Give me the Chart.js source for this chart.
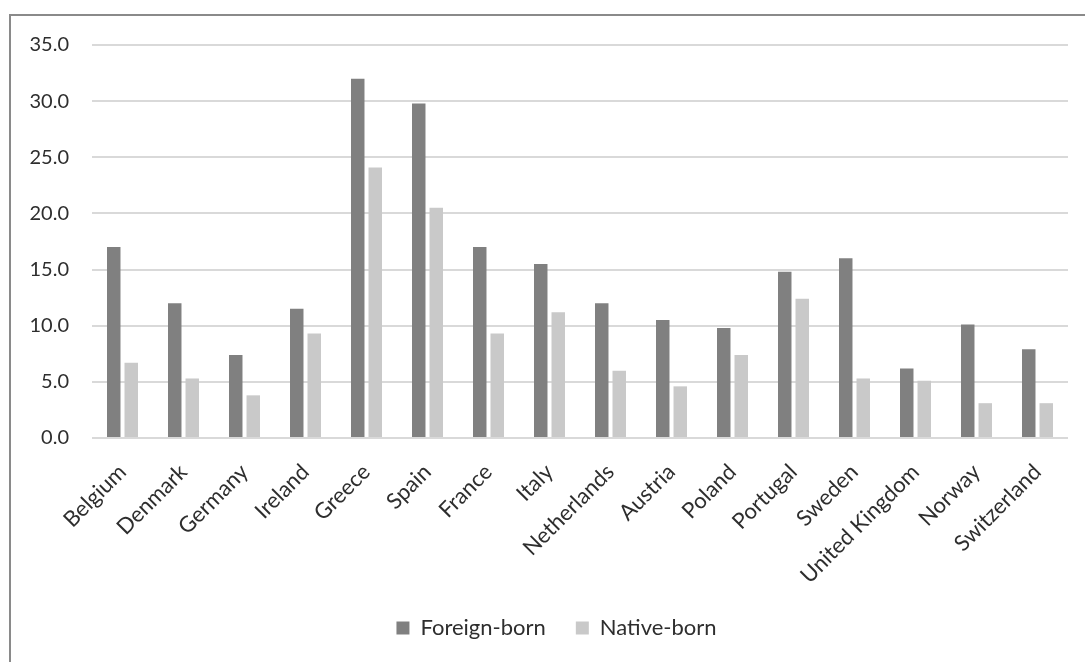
<!DOCTYPE html>
<html>
<head>
<meta charset="utf-8">
<title>Foreign-born and native-born</title>
<script src="https://cdn.jsdelivr.net/npm/chart.js@4.4.1/dist/chart.umd.min.js"></script>
<style>
    html, body { margin: 0; padding: 0; background: #fff; overflow: hidden; }
    #frame {
        position: absolute; left: 9px; top: 14px;
        width: 1120px; height: 720px;
        border: 2px solid #8a8a8a;
    }
    #wrap { position: absolute; left: 0; top: 0; width: 1085px; height: 662px; }
</style>
</head>
<body>
<div id="frame"></div>
<div id="wrap"><canvas id="bar-chart"></canvas></div>
<script>
// Countries and the two series (percent)
const countries = [
    'Belgium', 'Denmark', 'Germany', 'Ireland', 'Greece', 'Spain', 'France', 'Italy',
    'Netherlands', 'Austria', 'Poland', 'Portugal', 'Sweden', 'United Kingdom', 'Norway', 'Switzerland'
];
const foreignBorn = [17.0, 12.0, 7.4, 11.5, 32.0, 29.8, 17.0, 15.5, 12.0, 10.5, 9.8, 14.8, 16.0, 6.2, 10.1, 7.9];
const nativeBorn = [6.7, 5.3, 3.8, 9.3, 24.1, 20.5, 9.3, 11.2, 6.0, 4.6, 7.4, 12.4, 5.3, 5.1, 3.1, 3.1];

// Y axis range
const yMin = 0;
const yMax = 35;
const yStep = 5;

const colors = {
    foreign: '#808080',
    native: '#c9c9c9',
    grid: '#d9d9d9',
    text: '#2e2e2e'
};

Chart.defaults.font.family = 'Lato, "Open Sans", sans-serif';
Chart.defaults.color = colors.text;

// The legend is centred on the outer frame rather than on the canvas,
// so nudge it right after layout
const legendShift = {
    id: 'legendShift',
    afterLayout(chart, args, opts) {
        const legend = chart.legend;
        if (!legend) return;
        legend.left += opts.dx;
        legend.right += opts.dx;
    }
};

const ctx = document.getElementById('bar-chart').getContext('2d');

new Chart(ctx, {
    type: 'bar',
    data: {
        labels: countries,
        datasets: [{
            label: 'Foreign-born',
            data: foreignBorn,
            backgroundColor: colors.foreign,
            borderWidth: 0,
            categoryPercentage: 0.574,
            barPercentage: 0.77
        }, {
            label: 'Native-born',
            data: nativeBorn,
            backgroundColor: colors.native,
            borderWidth: 0,
            categoryPercentage: 0.574,
            barPercentage: 0.77
        }]
    },
    plugins: [legendShift],
    options: {
        responsive: true,
        maintainAspectRatio: false,
        animation: false,
        layout: {
            padding: { left: 25, right: 17, top: 45, bottom: 13 }
        },
        plugins: {
            legendShift: { dx: 10 },
            legend: {
                position: 'bottom',
                labels: {
                    boxWidth: 13,
                    boxHeight: 13,
                    padding: 30,
                    color: colors.text,
                    font: { size: 22 }
                }
            },
            tooltip: { enabled: false }
        },
        scales: {
            y: {
                min: yMin,
                max: yMax,
                ticks: {
                    stepSize: yStep,
                    padding: 23,
                    color: colors.text,
                    font: { size: 20 },
                    callback: function(value) {
                        return value.toFixed(1);
                    }
                },
                grid: {
                    color: colors.grid,
                    lineWidth: 2,
                    drawTicks: false
                },
                border: { display: false },
                afterFit: function(scale) {
                    scale.width = 67;
                }
            },
            x: {
                ticks: {
                    maxRotation: 45,
                    minRotation: 45,
                    padding: 21,
                    color: colors.text,
                    font: { size: 22 }
                },
                grid: { display: false, drawTicks: false },
                border: { display: false },
                afterFit: function(scale) {
                    scale.height = 149;
                }
            }
        }
    }
});
</script>
</body>
</html>
